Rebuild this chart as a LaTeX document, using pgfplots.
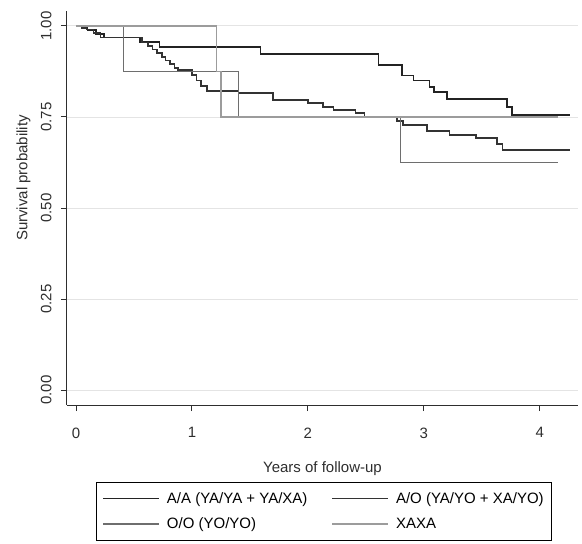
\documentclass[border=0pt]{standalone}
\usepackage{fontspec}
\setmainfont{Liberation Sans}
\usepackage{pgfplots}
\pgfplotsset{compat=1.18}
\definecolor{aaCol}{HTML}{232323}
\definecolor{aoCol}{HTML}{333333}
\definecolor{ooCol}{HTML}{6E6E6E}
\definecolor{xaCol}{HTML}{9C9C9C}
\definecolor{gridCol}{HTML}{E4E4E4}
\definecolor{axisCol}{HTML}{2E2E2E}
\begin{document}
\begin{tikzpicture}
  \path[use as bounding box] (-67pt,-139pt) rectangle (515pt,405pt);
  \begin{axis}[
    at={(0pt,0pt)}, anchor=south west,
    scale only axis, width=511pt, height=394pt,
    xmin=-0.078, xmax=4.33, ymin=-0.041, ymax=1.041,
    axis x line*=bottom, axis y line*=left,
    axis line style={draw=axisCol, line width=1pt},
    tick style={draw=axisCol, line width=1pt},
    tick align=outside, major tick length=6pt,
    xtick={0,1,2,3,4},
    ytick={0,0.25,0.5,0.75,1},
    yticklabels={0.00,0.25,0.50,0.75,1.00},
    /pgf/number format/assume math mode=true,
    tick label style={font=\fontsize{15}{18}\selectfont, text=axisCol},
    xticklabel style={yshift=-13pt},
    yticklabel style={xshift=-6pt, rotate=90, anchor=south},
    ymajorgrids,
    major grid style={draw=gridCol, line width=0.9pt},
    xlabel={Years of follow-up},
    ylabel={Survival probability},
    every axis y label/.style={at={(rel axis cs:0,0.576)}, xshift=-33pt, rotate=90,
      anchor=south, font=\fontsize{15}{18}\selectfont, text=axisCol},
    every axis x label/.style={at={(rel axis cs:0.5,0)}, anchor=north, yshift=-53pt,
      font=\fontsize{15}{18}\selectfont, text=axisCol},
    legend columns=2,
    legend style={at={(rel axis cs:0.503,-0.1954)}, anchor=north,
      draw=black, line width=0.8pt, font=\fontsize{15}{18}\selectfont,
      inner xsep=6pt, inner ysep=8pt,
      /tikz/every odd column/.append style={column sep=5pt},
      /tikz/every even column/.append style={column sep=22pt},
      row sep=9pt, cells={anchor=west}},
    legend image code/.code={\draw[#1, line width=1.6pt] (0pt,0pt) -- (56pt,0pt);},
    every axis plot/.append style={line width=1.6pt, const plot, mark=none},
  ]
    % A/A
    \addplot[aaCol] coordinates {
      (0,1) (0.06,0.995) (0.10,0.988) (0.17,0.978) (0.24,0.968) (0.55,0.956)
      (0.72,0.942) (1.59,0.923) (2.61,0.893) (2.81,0.864) (2.91,0.850)
      (3.05,0.832) (3.09,0.819) (3.20,0.800) (3.72,0.778) (3.76,0.756) (4.26,0.756)
    };
    \addlegendentry{A/A (YA/YA + YA/XA)}
    % A/O
    \addplot[aoCol] coordinates {
      (0,1) (0.05,0.995) (0.09,0.99) (0.15,0.98) (0.21,0.968) (0.57,0.955)
      (0.62,0.945) (0.66,0.935) (0.70,0.925) (0.74,0.915) (0.77,0.905)
      (0.81,0.895) (0.85,0.885) (0.88,0.879) (1.00,0.865) (1.04,0.850)
      (1.08,0.835) (1.13,0.821) (1.40,0.816) (1.70,0.797) (2.00,0.788)
      (2.13,0.777) (2.22,0.769) (2.41,0.761) (2.49,0.750) (2.77,0.739)
      (2.82,0.728) (3.03,0.712) (3.22,0.701) (3.45,0.692) (3.63,0.676)
      (3.68,0.659) (4.26,0.659)
    };
    \addlegendentry{A/O (YA/YO + XA/YO)}
    % O/O
    \addplot[ooCol] coordinates {
      (0,1) (0.41,0.875) (1.40,0.75) (2.80,0.625) (4.16,0.625)
    };
    \addlegendentry{O/O (YO/YO)}
    % XAXA
    \addplot[xaCol] coordinates {
      (0,1) (1.21,0.875) (1.25,0.75) (4.16,0.75)
    };
    \addlegendentry{XAXA}
  \end{axis}
\end{tikzpicture}
\end{document}
